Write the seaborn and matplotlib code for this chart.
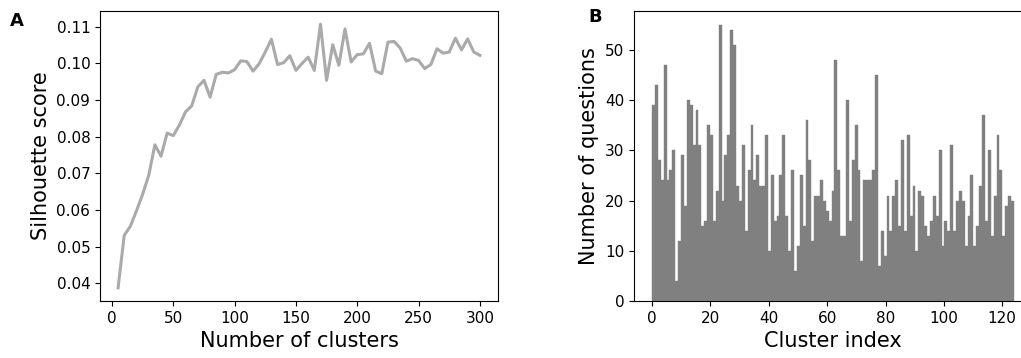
import numpy as np
import pandas as pd
import matplotlib
matplotlib.use("Agg")
import matplotlib.pyplot as plt
import seaborn as sns

# Panel A: silhouette score vs number of clusters
n_clusters = list(range(5, 305, 5))
silhouette = [
    0.0388, 0.0531, 0.0556, 0.0598, 0.0643, 0.0695, 0.0778, 0.0747, 0.0810, 0.0803,
    0.0832, 0.0868, 0.0884, 0.0936, 0.0954, 0.0908, 0.0970, 0.0976, 0.0974, 0.0983,
    0.1007, 0.1005, 0.0979, 0.0999, 0.1031, 0.1066, 0.0997, 0.1002, 0.1021, 0.0981,
    0.1000, 0.1017, 0.0981, 0.1107, 0.0954, 0.1051, 0.0995, 0.1094, 0.1004, 0.1024,
    0.1026, 0.1055, 0.0979, 0.0972, 0.1058, 0.1060, 0.1042, 0.1006, 0.1013, 0.1008,
    0.0986, 0.0997, 0.1040, 0.1028, 0.1031, 0.1069, 0.1037, 0.1067, 0.1031, 0.1022,
]

# Panel B: number of questions per cluster
cluster_index = list(range(125))
questions = [
    39, 43, 28, 24, 47, 24, 26, 30, 4, 12,
    29, 19, 40, 39, 31, 38, 31, 15, 16, 35,
    33, 16, 22, 55, 20, 29, 33, 54, 51, 23,
    20, 31, 14, 26, 35, 24, 29, 23, 23, 33,
    10, 25, 16, 17, 25, 33, 17, 10, 26, 6,
    11, 25, 15, 36, 28, 12, 21, 21, 24, 20,
    18, 16, 22, 48, 26, 13, 13, 40, 16, 28,
    35, 26, 8, 24, 24, 24, 26, 45, 7, 14,
    9, 21, 14, 21, 24, 15, 32, 14, 33, 17,
    23, 10, 22, 21, 15, 13, 16, 21, 17, 30,
    11, 16, 14, 31, 14, 20, 22, 20, 11, 17,
    25, 11, 15, 23, 37, 16, 30, 13, 21, 33,
    26, 13, 19, 21, 20,
]

W, H = 1021, 358
fig = plt.figure(figsize=(W / 100, H / 100), dpi=100)

axA = fig.add_axes([100 / W, 57 / H, 398 / W, 290 / H])
axB = fig.add_axes([634 / W, 57 / H, 398 / W, 290 / H])

dfA = pd.DataFrame({"k": n_clusters, "s": silhouette})
sns.lineplot(data=dfA, x="k", y="s", ax=axA, color="#aaaaaa", linewidth=2.2)
axA.set_xlabel("Number of clusters", fontsize=15)
axA.set_ylabel("Silhouette score", fontsize=15)
axA.set_xticks([0, 50, 100, 150, 200, 250, 300])
axA.set_yticks([0.04, 0.05, 0.06, 0.07, 0.08, 0.09, 0.10, 0.11])
axA.tick_params(labelsize=11)

dfB = pd.DataFrame({"idx": cluster_index, "n": questions})
sns.histplot(data=dfB, x="idx", weights="n", bins=125, binrange=(0, 124),
             ax=axB, color="#808080", alpha=1, edgecolor="#808080", linewidth=0.3)
axB.set_xlabel("Cluster index", fontsize=15)
axB.set_ylabel("Number of questions", fontsize=15)
axB.set_xticks([0, 20, 40, 60, 80, 100, 120])
axB.set_yticks([0, 10, 20, 30, 40, 50])
axB.tick_params(labelsize=11)

fig.text(10 / W, 1 - 21 / H, "A", fontsize=13, fontweight="bold", va="center", ha="left")
fig.text(588 / W, 1 - 17 / H, "B", fontsize=13, fontweight="bold", va="center", ha="left")

fig.savefig("out.png", dpi=100)
